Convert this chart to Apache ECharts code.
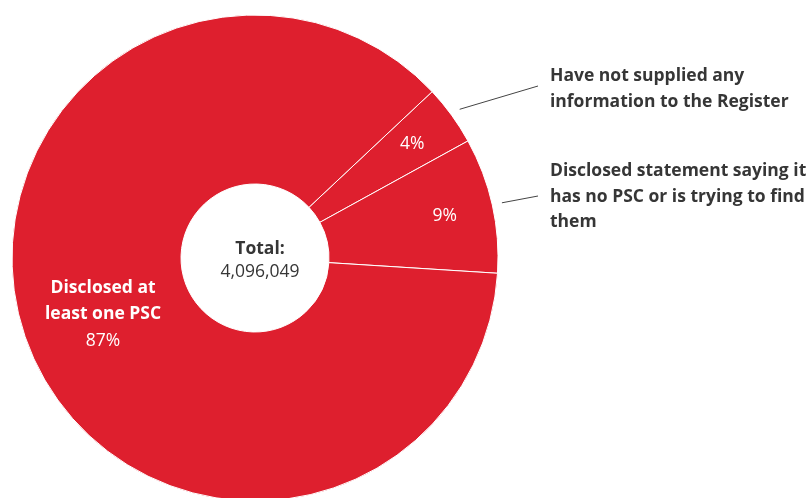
<!DOCTYPE html>
<html>
<head>
<meta charset="utf-8">
<script src="https://cdn.jsdelivr.net/npm/echarts@6/dist/echarts.min.js"></script>
<style>
html,body{margin:0;padding:0;background:#fff;}
#chart{width:812px;height:498px;}
</style>
</head>
<body>
<div id="chart"></div>
<script>
// ---- data ----
const categories = [
  'Have not supplied any\ninformation to the Register',
  'Disclosed statement saying it\nhas no PSC or is trying to find\nthem',
  'Disclosed at\nleast one PSC'
];
const shares = [4, 9, 87];          // percent of companies
const TOTAL = 4096049;              // total companies

// ---- layout constants ----
const CX = 255, CY = 258, R_OUT = 243, R_IN = 74;
const START_ANGLE = 43.2;
const FONT = '"Open Sans", sans-serif';
const RED = '#de1f2e';
const TEXT = '#363636';
const OUT_LABEL_CY = [89, 197];   // vertical centres of the external labels
const OUT_LABEL_X = 550;
const FS = 17.5;

const chart = echarts.init(document.getElementById('chart'), null, {renderer: 'canvas'});

const baseData = categories.map((c, i) => ({name: c, value: shares[i]}));

const option = {
  animation: false,
  textStyle: {fontFamily: FONT},
  title: {
    text: '{b|Total:}\n{n|' + TOTAL.toLocaleString('en-US') + '}',
    left: CX, top: CY - 25, textAlign: 'center',
    textStyle: {
      fontWeight: 'normal',
      rich: {
        b: {fontFamily: FONT, fontWeight: 'bold', fontSize: FS, color: TEXT, lineHeight: 23},
        n: {fontFamily: FONT, fontWeight: 'normal', fontSize: FS, color: TEXT, lineHeight: 23}
      }
    }
  },
  series: [
    {
      // visible donut, big-slice label
      type: 'pie', center: [CX, CY], radius: [R_IN, R_OUT],
      startAngle: START_ANGLE, clockwise: true, silent: true,
      itemStyle: {color: RED, borderColor: '#fff', borderWidth: 1},
      label: {
        position: 'inside',
        offset: [0, 2],
        formatter: p => p.dataIndex === 2 ? '{n|' + p.name + '}\n{p|' + p.value + '%}' : '',
        rich: {
          n: {fontFamily: FONT, fontWeight: 'bold', fontSize: FS, color: '#fff', lineHeight: 26, align: 'center'},
          p: {fontFamily: FONT, fontWeight: 'normal', fontSize: FS, color: '#fff', lineHeight: 27, align: 'center'}
        }
      },
      labelLine: {show: false},
      data: baseData
    },
    {
      // transparent ring carrying the small-slice percentage labels
      type: 'pie', center: [CX, CY], radius: [140, R_OUT],
      startAngle: START_ANGLE, clockwise: true, silent: true,
      itemStyle: {color: 'rgba(0,0,0,0)', borderWidth: 0},
      label: {
        position: 'inside',
        formatter: p => p.dataIndex === 2 ? '' : p.value + '%',
        fontFamily: FONT, fontSize: FS, color: '#fff'
      },
      labelLine: {show: false},
      data: baseData
    },
    {
      // transparent series carrying the external labels + leader lines
      type: 'pie', center: [CX, CY], radius: [R_IN, R_OUT],
      startAngle: START_ANGLE, clockwise: true, silent: true,
      itemStyle: {color: 'rgba(0,0,0,0)', borderWidth: 0},
      avoidLabelOverlap: false,
      label: {
        position: 'outside',
        formatter: p => p.name,
        fontFamily: FONT, fontWeight: 'bold', fontSize: FS, color: TEXT, lineHeight: 25.5
      },
      labelLine: {show: true, length: 10, length2: 10, lineStyle: {color: '#444', width: 1}},
      labelLayout: function (p) {
        const i = p.dataIndex;
        if (i > 1 || !p.labelLinePoints) return {};
        const x0 = p.labelLinePoints[0][0], y0 = p.labelLinePoints[0][1];
        const a = Math.atan2(y0 - CY, x0 - CX);
        const sx = CX + (R_OUT + 10) * Math.cos(a);
        const sy = CY + (R_OUT + 10) * Math.sin(a);
        const cy = OUT_LABEL_CY[i];
        return {
          x: OUT_LABEL_X, y: cy, align: 'left', verticalAlign: 'middle',
          labelLinePoints: [[sx, sy], [OUT_LABEL_X - 12, cy - 3 + i * 2]]
        };
      },
      data: baseData.map((d, i) => i === 2
        ? Object.assign({}, d, {label: {show: false}, labelLine: {show: false}})
        : d)
    }
  ]
};
chart.setOption(option);
</script>
</body>
</html>
